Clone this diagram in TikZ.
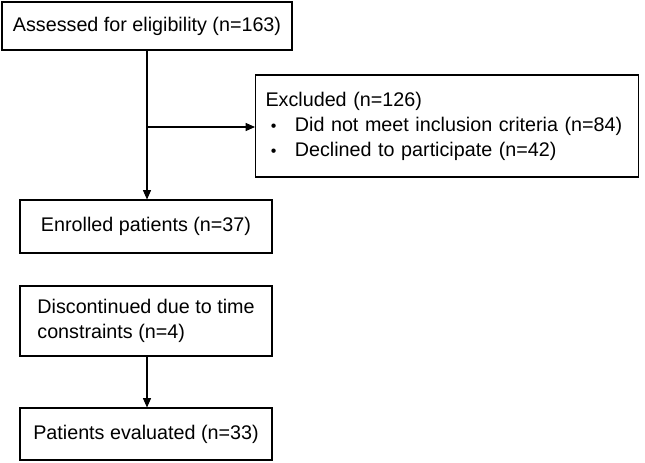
\documentclass[tikz,border=0pt]{standalone}
\usepackage{fontspec}
\setmainfont{Liberation Sans}
\usetikzlibrary{arrows.meta}

\begin{document}
\begin{tikzpicture}[x=0.75pt, y=-0.75pt,
		box/.style={draw, thick, align=left, inner sep=0pt, font=\fontsize{14.8}{18.75}\selectfont},
		arr/.style={thick, -{Triangle[length=7pt, width=6pt]}}]
		\useasboundingbox (0,0) rectangle (645,462);
		
		\node [box, minimum width=290*0.75pt, minimum height=48*0.75pt] (assess) at (147,26) {Assessed for eligibility (n=163)};
		\node [box, minimum width=383*0.75pt, minimum height=102*0.75pt, anchor=west, inner xsep=10*0.75pt, text width=363*0.75pt] (excl) at (255,126)
			{Excluded (n=126)\\
			\makebox[22pt][l]{\hspace{4pt}\large\textbullet}Did not meet inclusion criteria (n=84)\\
			\makebox[22pt][l]{\hspace{4pt}\large\textbullet}Declined to participate (n=42)};
		\node [box, minimum width=252*0.75pt, minimum height=53*0.75pt] (enrol) at (146,226.5) {Enrolled patients (n=37)};
		\node [box, minimum width=252*0.75pt, minimum height=70*0.75pt] (disc) at (146,321) {Discontinued due to time\\constraints (n=4)};
		\node [box, minimum width=252*0.75pt, minimum height=52*0.75pt] (eval) at (146,434) {Patients evaluated (n=33)};
		
		\coordinate (split) at (147,127);
		\draw [arr] (assess.south -| split) -- (enrol.north -| split);
		\draw [arr] (split) -- (split -| excl.west);
		\draw [arr] (disc.south -| split) -- (eval.north -| split);
	\end{tikzpicture}
\end{document}
